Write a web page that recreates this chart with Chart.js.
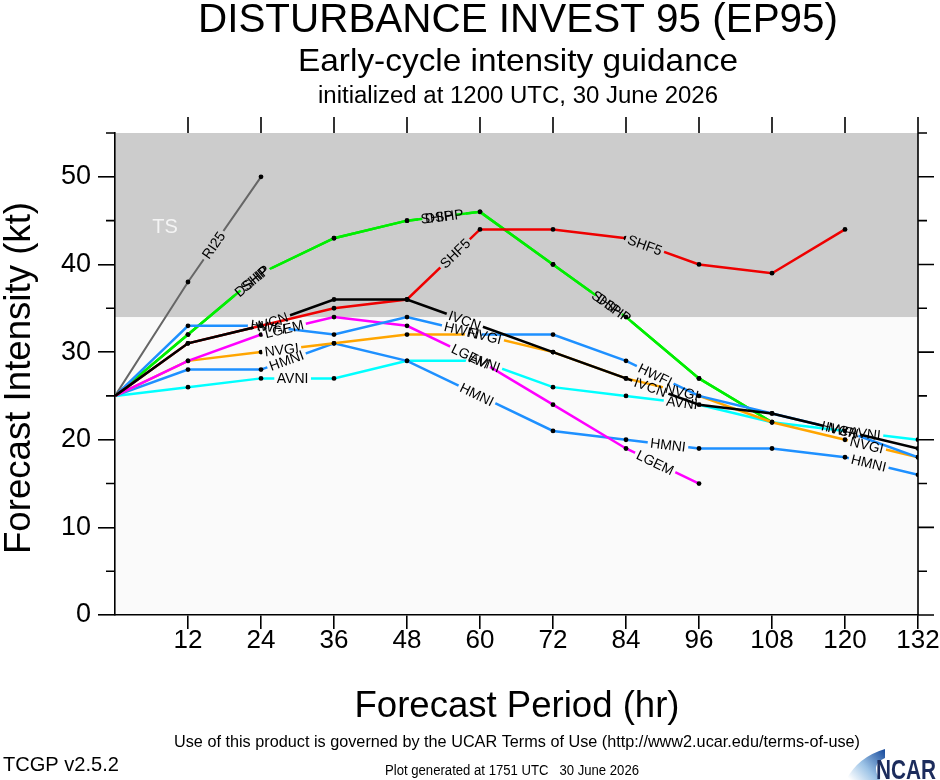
<!DOCTYPE html>
<html>
<head>
<meta charset="utf-8">
<script src="https://cdn.jsdelivr.net/npm/chart.js@4.4.1/dist/chart.umd.min.js"></script>
<style>
  html, body { margin: 0; padding: 0; background: #fff; }
  canvas { display: block; }
</style>
</head>
<body>
<canvas id="chart" width="940" height="780"></canvas>
<script>
// forecast hours (x) and model intensities in kt
const hours = [0, 12, 24, 36, 48, 60, 72, 84, 96, 108, 120, 132];

const ri25 = [25, 38, 50];
const ship = [25, 32, 39, 43, 45, 46, 40, 34, 27, 22];
const dshp = [25, 32, 39, 43, 45, 46, 40, 34, 27, 22];
const shf5 = [25, 31, 33, 35, 36, 44, 44, 43, 40, 39, 44];
const lgem = [25, 29, 32, 34, 33, 29, 24, 19, 15];
const ivcn = [25, 31, 33, 36, 36, 33, 30, 27, 24, 23, 21, 19];
const hwfi = [25, 33, 33, 32, 34, 32, 32, 29, 25, 23, 21, 18];
const hmni = [25, 28, 28, 31, 29, 25, 21, 20, 19, 19, 18, 16];
const nvgi = [25, 29, 30, 31, 32, 32, 30, 27, 25, 22, 20, 18];
const avni = [25, 26, 27, 27, 29, 29, 26, 25, 24, 22, 21, 20];

const xTickHours = [12, 24, 36, 48, 60, 72, 84, 96, 108, 120, 132];
const tsThreshold = 34;

// where the in-line model labels sit (forecast hour along each line)
const labelHours = {
    RI25: [16.2],
    SHIP: [23, 52.9, 80.8],
    DSHP: [22.4, 54.1, 82],
    SHF5: [55.9, 87.1],
    LGEM: [27.8, 58.4, 88.8],
    IVCN: [25.8, 57.5, 88, 119.5],
    HWFI: [25.2, 57, 88.8, 119],
    NVGI: [27.4, 60.8, 93.2, 123.6],
    HMNI: [28.2, 59.5, 90.9, 123.9],
    AVNI: [29.2, 60.8, 93.2, 123.3]
};

const LABEL_FONT = '14px "Liberation Sans", Arial, sans-serif';

function toPoints(values) {
    return values.map((v, i) => ({ x: hours[i], y: v }));
}

function makeSet(name, values, color, order, width) {
    return {
        label: name,
        data: toPoints(values),
        borderColor: color,
        backgroundColor: color,
        borderWidth: width || 2.5,
        pointRadius: ctx => ctx.dataIndex === 0 ? 0 : 2.4,
        pointBackgroundColor: '#000',
        pointBorderWidth: 0,
        tension: 0,
        fill: false,
        order: order
    };
}

// positions of the text labels along a dataset's polyline
function labelSpots(chart, ds) {
    const xs = chart.scales.x, ys = chart.scales.y;
    const spots = [];
    (labelHours[ds.label] || []).forEach(h => {
        const pts = ds.data;
        for (let i = 0; i < pts.length - 1; i++) {
            const a = pts[i], b = pts[i + 1];
            if (h >= a.x && h <= b.x) {
                const t = (h - a.x) / (b.x - a.x);
                const ax = xs.getPixelForValue(a.x), ay = ys.getPixelForValue(a.y);
                const bx = xs.getPixelForValue(b.x), by = ys.getPixelForValue(b.y);
                spots.push({ x: ax + t * (bx - ax), y: ay + t * (by - ay), a: Math.atan2(by - ay, bx - ax) });
                break;
            }
        }
    });
    return spots;
}

const lineLabels = {
    id: 'lineLabels',
    beforeDatasetDraw(chart, args) {
        const ds = chart.data.datasets[args.index];
        const spots = labelSpots(chart, ds);
        if (!spots.length) return;
        const ctx = chart.ctx;
        ctx.font = LABEL_FONT;
        const w = ctx.measureText(ds.label).width + 5;
        const h = 12;
        const p = new Path2D();
        p.rect(0, 0, chart.width, chart.height);
        spots.forEach(s => {
            const c = Math.cos(s.a), sn = Math.sin(s.a);
            const corners = [[-w / 2, -h / 2], [w / 2, -h / 2], [w / 2, h / 2], [-w / 2, h / 2]]
                .map(([u, v]) => [s.x + u * c - v * sn, s.y + u * sn + v * c]);
            p.moveTo(corners[0][0], corners[0][1]);
            for (let k = 1; k < 4; k++) p.lineTo(corners[k][0], corners[k][1]);
            p.closePath();
        });
        ctx.save();
        ctx.clip(p, 'evenodd');
        ds._gapClip = true;
    },
    afterDatasetDraw(chart, args) {
        const ds = chart.data.datasets[args.index];
        if (ds._gapClip) {
            chart.ctx.restore();
            ds._gapClip = false;
        }
    },
    afterDatasetsDraw(chart) {
        const ctx = chart.ctx;
        ctx.save();
        ctx.font = LABEL_FONT;
        ctx.fillStyle = '#000';
        ctx.textAlign = 'center';
        ctx.textBaseline = 'middle';
        chart.data.datasets.forEach(ds => {
            labelSpots(chart, ds).forEach(s => {
                ctx.save();
                ctx.translate(s.x, s.y);
                ctx.rotate(s.a);
                ctx.fillText(ds.label, 0, 1);
                ctx.restore();
            });
        });
        ctx.restore();
    }
};

// grey tropical-storm band and light plot background
const bands = {
    id: 'bands',
    beforeDraw(chart) {
        const { ctx, chartArea: a, scales: { y } } = chart;
        const yTs = y.getPixelForValue(tsThreshold);
        ctx.save();
        ctx.fillStyle = '#ffffff';
        ctx.fillRect(0, 0, chart.width, chart.height);
        ctx.fillStyle = '#fafafa';
        ctx.fillRect(a.left, yTs, a.right - a.left, a.bottom - yTs);
        ctx.fillStyle = '#cccccc';
        ctx.fillRect(a.left, a.top, a.right - a.left, yTs - a.top);
        ctx.fillStyle = '#f4f4f4';
        ctx.font = '20px "Liberation Sans", Arial, sans-serif';
        ctx.textAlign = 'center';
        ctx.textBaseline = 'middle';
        ctx.fillText('TS', 165, 227);
        ctx.restore();
    }
};

function fitText(ctx, text, cx, cy, font, width) {
    ctx.font = font;
    const w = ctx.measureText(text).width;
    const sx = width ? width / w : 1;
    ctx.save();
    ctx.translate(cx, cy);
    ctx.scale(sx, 1);
    ctx.fillText(text, 0, 0);
    ctx.restore();
}

// right axis, top ticks, minor ticks, titles and footer
const frame = {
    id: 'frame',
    afterDraw(chart) {
        const { ctx, chartArea: a, scales: { x, y } } = chart;
        ctx.save();
        ctx.strokeStyle = '#000';
        ctx.lineWidth = 1.6;
        ctx.beginPath();
        ctx.moveTo(a.right, a.top);
        ctx.lineTo(a.right, a.bottom + 0.8);
        xTickHours.forEach(hr => {
            const px = x.getPixelForValue(hr);
            ctx.moveTo(px, a.top);
            ctx.lineTo(px, a.top - 16);
        });
        for (let v = 0; v <= 55; v += 5) {
            const py = y.getPixelForValue(v);
            const len = v % 10 === 0 ? 16 : 9;
            if (v % 10 !== 0) {
                ctx.moveTo(a.left, py);
                ctx.lineTo(a.left - 9, py);
            }
            ctx.moveTo(a.right, py);
            ctx.lineTo(a.right + len, py);
        }
        ctx.stroke();

        const sans = '"Liberation Sans", Arial, sans-serif';
        const narrow = '"Liberation Sans Narrow", "Liberation Sans", Arial, sans-serif';
        ctx.fillStyle = '#000';
        ctx.textAlign = 'center';
        ctx.textBaseline = 'middle';
        fitText(ctx, 'DISTURBANCE INVEST 95 (EP95)', 518, 21, '41px ' + sans, 640);
        fitText(ctx, 'Early-cycle intensity guidance', 518, 62, '32px ' + sans, 440);
        fitText(ctx, 'initialized at 1200 UTC, 30 June 2026', 518, 97, '23px ' + sans, 400);
        fitText(ctx, 'Forecast Period (hr)', 517, 707, '36px ' + sans, 325);

        ctx.save();
        ctx.translate(20, 378);
        ctx.rotate(-Math.PI / 2);
        fitText(ctx, 'Forecast Intensity (kt)', 0, 0, '36px ' + sans, 352);
        ctx.restore();

        fitText(ctx, 'Use of this product is governed by the UCAR Terms of Use (http://www2.ucar.edu/terms-of-use)', 517, 742, '17px ' + narrow, 686);
        fitText(ctx, 'Plot generated at 1751 UTC   30 June 2026', 512, 771, '14px ' + narrow, 254);
        ctx.textAlign = 'left';
        fitText(ctx, 'TCGP v2.5.2', 3, 765, '21px ' + narrow, 116);

        // NCAR logo
        const g = ctx.createLinearGradient(850, 780, 884, 750);
        g.addColorStop(0, '#ffffff');
        g.addColorStop(0.45, '#9cc3e6');
        g.addColorStop(1, '#1c4e9e');
        ctx.fillStyle = g;
        ctx.beginPath();
        ctx.moveTo(846, 780);
        ctx.quadraticCurveTo(858, 757, 885, 749);
        ctx.lineTo(885, 758);
        ctx.quadraticCurveTo(870, 764, 880, 780);
        ctx.closePath();
        ctx.fill();
        ctx.fillStyle = '#1c2c5c';
        ctx.textBaseline = 'alphabetic';
        fitText(ctx, 'NCAR', 876, 779, 'bold 28px ' + narrow, 60);
        ctx.restore();
    }
};

const datasets = [
    makeSet('IVCN', ivcn, '#000000', 0),
    makeSet('SHF5', shf5, '#ee0000', 1),
    makeSet('HWFI', hwfi, '#1e90ff', 2),
    makeSet('LGEM', lgem, '#ff00ff', 3),
    makeSet('NVGI', nvgi, '#ffa500', 4),
    makeSet('HMNI', hmni, '#1e90ff', 5),
    makeSet('AVNI', avni, '#00ffff', 6),
    makeSet('DSHP', dshp, '#00ee00', 7),
    makeSet('SHIP', ship, '#00ee00', 8),
    makeSet('RI25', ri25, '#666666', 9, 2)
];

new Chart(document.getElementById('chart'), {
    type: 'line',
    data: { datasets: datasets },
    options: {
        responsive: false,
        animation: false,
        devicePixelRatio: 1,
        layout: { padding: { top: 133, right: 22, left: 0, bottom: 0 } },
        plugins: {
            legend: { display: false },
            tooltip: { enabled: false },
            title: { display: false }
        },
        scales: {
            x: {
                type: 'linear',
                min: 0,
                max: 132,
                afterFit: s => {
                    s.height = 165;
                    s.paddingLeft = 0;
                    s.paddingRight = 0;
                },
                ticks: {
                    stepSize: 12,
                    includeBounds: false,
                    autoSkip: false,
                    maxRotation: 0,
                    padding: -4,
                    color: '#000',
                    font: { size: 26, family: '"Liberation Sans", Arial, sans-serif' },
                    callback: v => v === 0 ? '' : v
                },
                grid: {
                    drawOnChartArea: false,
                    drawTicks: true,
                    tickLength: 14,
                    lineWidth: 1.6,
                    color: '#000',
                    tickColor: c => (c.tick && c.tick.value === 0) ? 'rgba(0,0,0,0)' : '#000'
                },
                border: { display: true, color: '#000', width: 1.6 }
            },
            y: {
                min: 0,
                max: 55,
                afterFit: s => { s.width = 115; },
                ticks: {
                    stepSize: 10,
                    includeBounds: false,
                    padding: 7,
                    color: '#000',
                    font: { size: 27, family: '"Liberation Sans", Arial, sans-serif' }
                },
                grid: {
                    drawOnChartArea: false,
                    drawTicks: true,
                    tickLength: 17,
                    lineWidth: 1.6,
                    color: '#000'
                },
                border: { display: true, color: '#000', width: 1.6 }
            }
        }
    },
    plugins: [bands, lineLabels, frame]
});
</script>
</body>
</html>
